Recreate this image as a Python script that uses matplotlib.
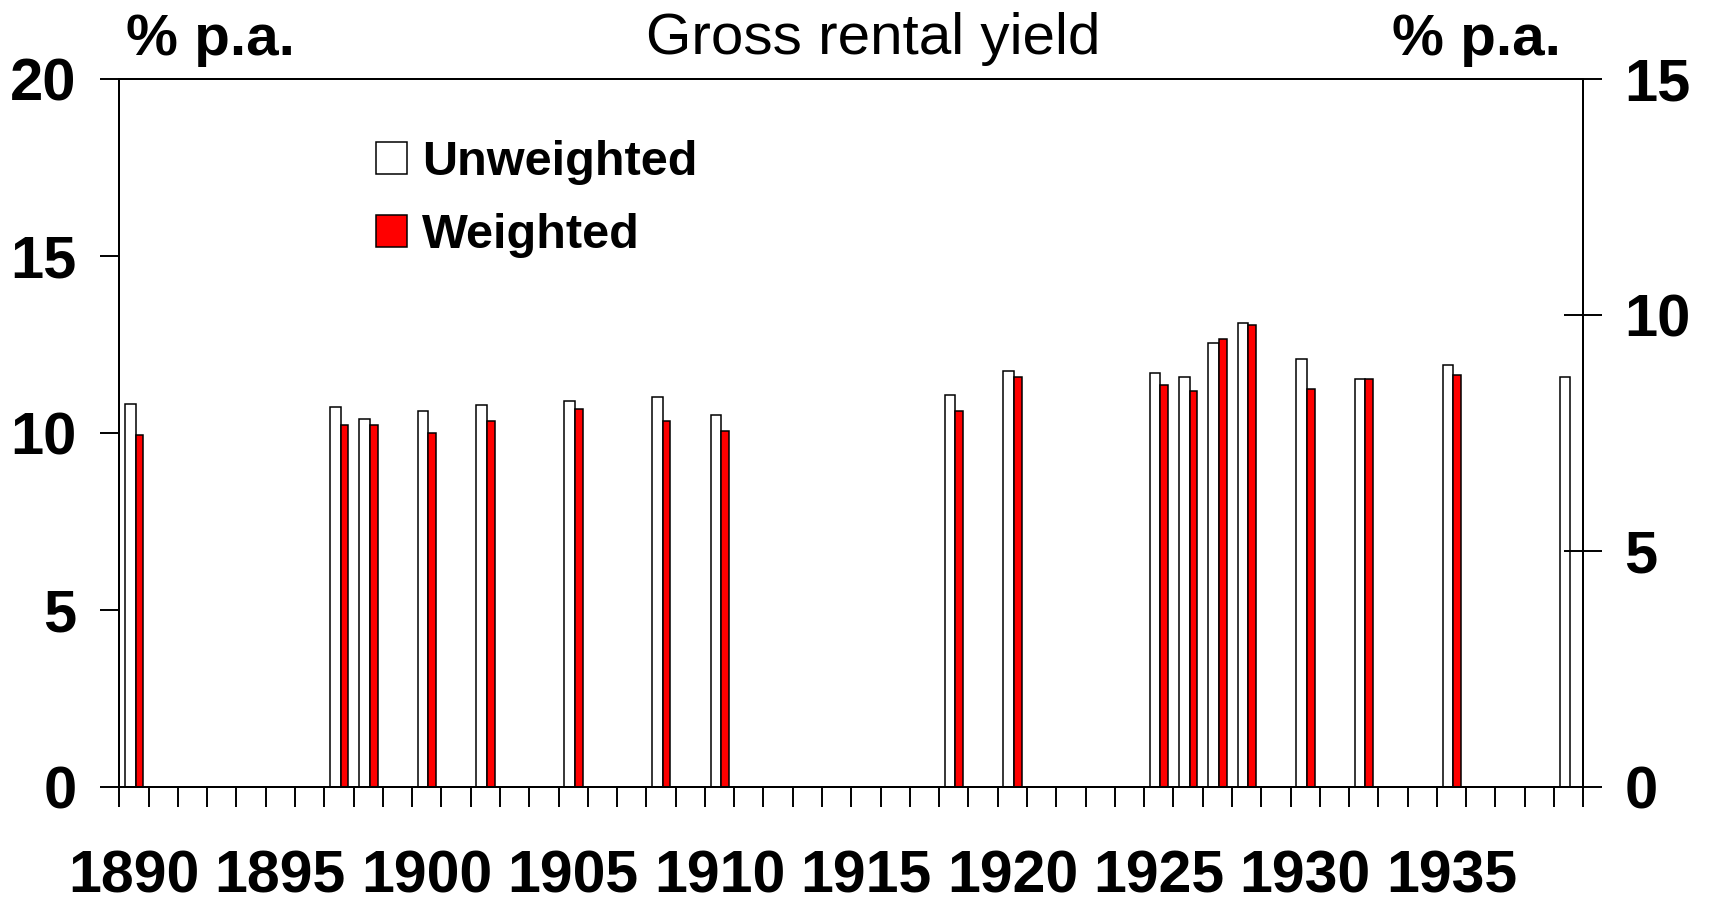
import numpy as np
import matplotlib
matplotlib.use('Agg')
import matplotlib.pyplot as plt

plt.rcParams['font.family'] = ['Liberation Sans', 'DejaVu Sans']

# Category axis: one slot per year
years = list(range(1890, 1940))
label_years = [1890, 1895, 1900, 1905, 1910, 1915, 1920, 1925, 1930, 1935]

# Years with observations and their yields (% p.a.)
obs_years = [1890, 1897, 1898, 1900, 1902, 1905, 1908, 1910, 1918,
             1920, 1925, 1926, 1927, 1928, 1930, 1932, 1935, 1939]
unweighted = [10.80, 10.73, 10.39, 10.61, 10.79, 10.90, 11.01, 10.50, 11.07,
              11.74, 11.69, 11.57, 12.53, 13.10, 12.08, 11.52, 11.92, 11.57]
weighted = [9.93, 10.22, 10.22, 9.99, 10.33, 10.68, 10.34, 10.06, 10.61,
            11.57, 11.35, 11.19, 12.65, 13.05, 11.23, 11.52, 11.64, np.nan]

W, H = 1711, 899
fig = plt.figure(figsize=(W / 100, H / 100), dpi=100)
ax = fig.add_axes([119.3 / W, 1 - 786.7 / H, (1583.3 - 119.3) / W, (786.7 - 78.7) / H])

pos = np.array([years.index(y) for y in obs_years])
ax.bar(pos + 0.195, unweighted, width=0.36, align='edge', color='white',
       edgecolor='black', linewidth=1.1, label='Unweighted')
ax.bar(pos + 0.555, weighted, width=0.265, align='edge', color='#ff0000',
       edgecolor='black', linewidth=1.1, label='Weighted')

ax.set_xlim(0, len(years))
ax.set_ylim(0, 20)

# ticks on slot boundaries, labels in the slot centres
ax.set_xticks(np.arange(len(years) + 1))
ax.set_xticklabels([])
ax.set_xticks([years.index(y) + 0.5 for y in label_years], minor=True)
ax.set_xticklabels([str(y) for y in label_years], minor=True,
                   fontsize=42.5, fontweight='bold')
ax.tick_params(axis='x', which='major', direction='out', length=14.4, width=1.4)
ax.tick_params(axis='x', which='minor', length=0, pad=45)

ax.set_yticks([0, 5, 10, 15, 20])
ax.tick_params(axis='y', direction='out', length=13.7, width=1.4, pad=17, labelsize=43)
for t in ax.get_yticklabels():
    t.set_fontweight('bold')

ax2 = ax.twinx()
ax2.set_ylim(0, 15)
ax2.set_yticks([0, 5, 10, 15])
ax2.tick_params(axis='y', direction='inout', length=27.4, width=1.4, pad=16, labelsize=43)
for t in ax2.get_yticklabels():
    t.set_fontweight('bold')

for a in (ax, ax2):
    for s in a.spines.values():
        s.set_linewidth(1.4)

fig.text(210 / W, 1 - 55 / H, '% p.a.', ha='center', va='baseline',
         fontsize=42, fontweight='bold')
fig.text(1476 / W, 1 - 55 / H, '% p.a.', ha='center', va='baseline',
         fontsize=42, fontweight='bold')
fig.text(873 / W, 1 - 54 / H, 'Gross rental yield', ha='center', va='baseline',
         fontsize=42)

ax.legend(loc='upper left', bbox_to_anchor=(376 / W, 1 - 140 / H),
          bbox_transform=fig.transFigure, frameon=False,
          prop={'weight': 'bold', 'size': 35},
          handlelength=0.64, handleheight=0.64, handletextpad=0.3,
          labelspacing=0.58, borderpad=0, borderaxespad=0)

fig.savefig('out.png', dpi=100)
